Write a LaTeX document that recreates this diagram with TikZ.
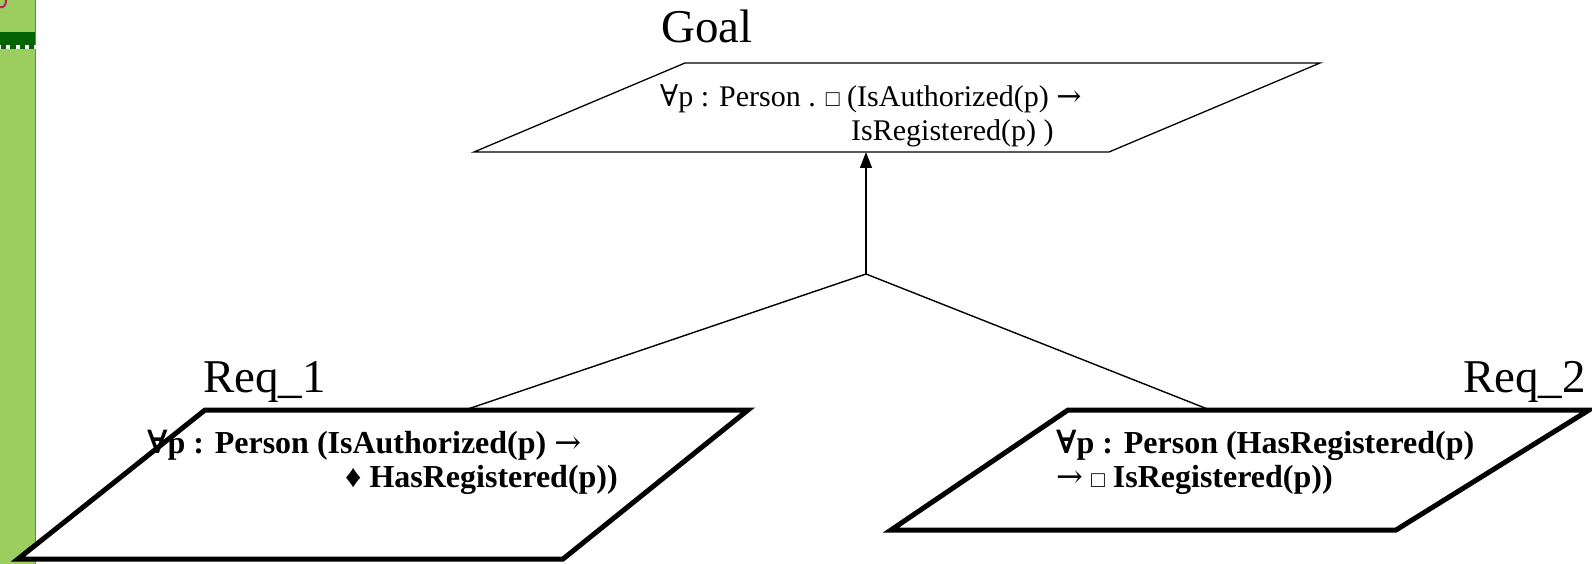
\documentclass[tikz,border=0pt]{standalone}
\usepackage{fontspec}
\setmainfont{Liberation Serif}
\newfontfamily\symfont{DejaVu Serif}
\usetikzlibrary{arrows.meta}

\definecolor{sidegreen}{RGB}{155,205,95}
\definecolor{sideteal}{RGB}{20,160,160}
\definecolor{banddark}{RGB}{0,100,0}
\definecolor{markred}{RGB}{175,40,90}

% logic symbols
\newcommand{\allq}{{\symfont ∀}}
\newcommand{\impl}{{\symfont\mdseries →}}
\newcommand{\alw}{{\fontsize{23}{23}\selectfont\mdseries □}}

\begin{document}
\begin{tikzpicture}[x=1pt,y=-1pt,
  thinbox/.style={draw, fill=white, line width=1.3pt, line join=miter},
  thickbox/.style={draw, fill=white, line width=5pt, line join=miter},
  link/.style={draw, line width=1.4pt},
  title/.style={font=\fontsize{47}{50}\selectfont, inner sep=0pt, anchor=base west},
  goaltext/.style={font=\fontsize{30}{34}\selectfont, align=left, inner sep=0pt, anchor=west},
  reqtext/.style={font=\bfseries\fontsize{32}{34}\selectfont, align=left, inner sep=0pt, anchor=west}]

\useasboundingbox (0,0) rectangle (1592,564);
\fill[white] (0,0) rectangle (1592,564);

% side strip
\fill[sidegreen] (0,0) rectangle (34.5,564);
\fill[sideteal] (34.5,0) rectangle (36.2,564);
\fill[banddark] (0,32) rectangle (34.5,49.5);
\foreach \x in {-3,6,15.5,25,34} \fill[white] (\x,45) rectangle (\x+4,49.5);
\draw[markred, line width=2pt] (0,7) .. controls (3,8.5) and (6.5,5) .. (6,0);

% connection points
\coordinate (goalB) at (866,152);
\coordinate (fork) at (866,274);
\coordinate (req1T) at (465,410);
\coordinate (req2T) at (1210,410);

% goal
\draw[thinbox] (685,63) -- (1320,63) -- (1109,152) -- (474,152) -- cycle;
\node[title] (goallbl) at (661,43) {Goal};
\node[goaltext] (goaltxt) at (660,116)
  {\allq p : Person . \alw\ (IsAuthorized(p) \impl\\\hspace*{191pt}IsRegistered(p) )};

% requirements
\draw[thickbox] (205,410) -- (748,410) -- (563,559) -- (18,559) -- cycle;
\node[title] (req1lbl) at (203,392) {Req\_1};
\node[reqtext] (req1txt) at (147,462)
  {{\bfseries\allq}p : Person (IsAuthorized(p) \impl\\\hspace*{198pt}♦ HasRegistered(p))};

\draw[thickbox] (1068,410) -- (1589,410) -- (1396,530) -- (891,530) -- cycle;
\node[title] (req2lbl) at (1463,392) {Req\_2};
\node[reqtext] (req2txt) at (1056,462)
  {{\bfseries\allq}p : Person (HasRegistered(p)\\\impl\ \alw\ IsRegistered(p))};

% refinement links
\draw[link, -{Triangle[width=12pt,length=16pt]}] (fork) -- (goalB);
\draw[link] (fork) -- (req1T);
\draw[link] (fork) -- (req2T);
\end{tikzpicture}
\end{document}
